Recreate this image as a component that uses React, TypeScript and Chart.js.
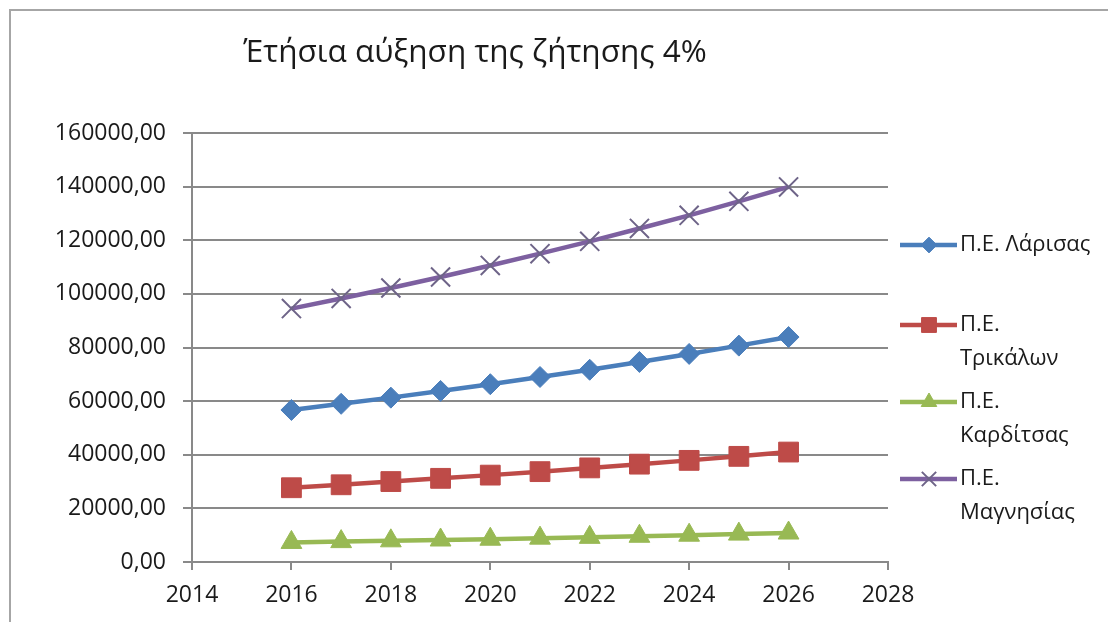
import React, { useEffect, useRef } from "react";
import { Chart, registerables } from "chart.js";
import { drawPoint } from "chart.js/helpers";

Chart.register(...registerables);

const years = [2016, 2017, 2018, 2019, 2020, 2021, 2022, 2023, 2024, 2025, 2026];
const larisaValues = [56700, 59000, 61300, 63800, 66300, 69000, 71700, 74600, 77600, 80700, 83900];
const trikalaValues = [27700, 28800, 30000, 31200, 32400, 33700, 35100, 36500, 37900, 39400, 41000];
const karditsaValues = [7300, 7600, 7900, 8200, 8500, 8900, 9200, 9600, 10000, 10400, 10800];
const magnesiaValues = [94500, 98300, 102200, 106300, 110600, 115000, 119600, 124400, 129300, 134500, 139900];
const seriesLabels = ["Π.Ε. Λάρισας", "Π.Ε.\nΤρικάλων", "Π.Ε.\nΚαρδίτσας", "Π.Ε.\nΜαγνησίας"];
const titleText = "Έτήσια αύξηση της ζήτησης 4%";

const FONT = "'Open Sans', sans-serif";
const TEXT = "#1a1a1a";
const GRID = "#898989";

const toPoints = (vals: number[]) => vals.map((v, i) => ({ x: years[i], y: v }));

const framePlugin = {
  id: "frame",
  beforeDraw(chart: any) {
    const ctx = chart.ctx;
    ctx.save();
    ctx.strokeStyle = "#a6a6a6";
    ctx.lineWidth = 2;
    ctx.beginPath();
    ctx.moveTo(10, chart.height + 5);
    ctx.lineTo(10, 10);
    ctx.lineTo(chart.width + 5, 10);
    ctx.stroke();
    ctx.restore();
  },
};

const titlePlugin = {
  id: "placedTitle",
  afterDraw(chart: any) {
    const ctx = chart.ctx;
    ctx.save();
    ctx.fillStyle = TEXT;
    ctx.font = `31.5px ${FONT}`;
    ctx.textAlign = "center";
    ctx.textBaseline = "middle";
    ctx.fillText(titleText, 475, 53);
    ctx.restore();
  },
};

const legendPlugin = {
  id: "sideLegend",
  afterDraw(chart: any) {
    const ctx = chart.ctx;
    const rows = [245, 325, 402, 479];
    const lineGap = 34;
    ctx.save();
    chart.data.datasets.forEach((ds: any, i: number) => {
      const y = rows[i];
      ctx.strokeStyle = ds.borderColor;
      ctx.lineWidth = 4.5;
      ctx.lineCap = "butt";
      ctx.beginPath();
      ctx.moveTo(900, y);
      ctx.lineTo(957, y);
      ctx.stroke();
      ctx.fillStyle = ds.pointBackgroundColor;
      ctx.strokeStyle = ds.pointBorderColor;
      ctx.lineWidth = ds.pointBorderWidth;
      drawPoint(ctx, { pointStyle: ds.pointStyle, radius: ds.pointRadius * 0.75, rotation: 0, borderWidth: ds.pointBorderWidth }, 929, y);
      ctx.fillStyle = TEXT;
      ctx.font = `22px ${FONT}`;
      ctx.textBaseline = "middle";
      ctx.textAlign = "left";
      String(ds.label).split("\n").forEach((line: string, k: number) => {
        ctx.fillText(line, 960, y + k * lineGap);
      });
    });
    ctx.restore();
  },
};

export default function App() {
  const ref = useRef<HTMLCanvasElement | null>(null);
  useEffect(() => {
    if (!ref.current) return;
    const mk = (label: string, vals: number[], color: string, style: string, radius: number, border: string, bw: number) => ({
      label,
      data: toPoints(vals),
      borderColor: color,
      backgroundColor: color,
      borderWidth: 4.5,
      pointStyle: style,
      pointRadius: radius,
      pointBackgroundColor: color,
      pointBorderColor: border,
      pointBorderWidth: bw,
      tension: 0,
      showLine: true,
    });
    const chart = new Chart(ref.current, {
      type: "line",
      data: {
        datasets: [
          mk(seriesLabels[0], larisaValues, "#4a7ebb", "rectRot", 10.5, "#4a7ebb", 1),
          mk(seriesLabels[1], trikalaValues, "#be4b48", "rect", 14, "#be4b48", 1),
          mk(seriesLabels[2], karditsaValues, "#98b954", "triangle", 12, "#98b954", 1),
          mk(seriesLabels[3], magnesiaValues, "#7d60a0", "crossRot", 13.5, "#6e6488", 2),
        ] as any,
      },
      options: {
        animation: false,
        responsive: false,
        layout: { padding: { left: 0, right: 220, top: 133, bottom: 0 } },
        plugins: {
          legend: { display: false },
          tooltip: { enabled: false },
          title: { display: false },
        },
        scales: {
          x: {
            type: "linear",
            min: 2014,
            max: 2028,
            afterFit: (s: any) => { s.height = 60; },
            ticks: {
              stepSize: 2,
              color: TEXT,
              padding: 12,
              font: { family: FONT, size: 23 },
              callback: (v: any) => String(v),
            },
            grid: { drawOnChartArea: false, drawTicks: true, tickLength: 8, color: GRID, lineWidth: 2 },
            border: { display: true, color: GRID, width: 2 },
          },
          y: {
            min: 0,
            max: 160000,
            afterFit: (s: any) => { s.width = 192; },
            ticks: {
              stepSize: 20000,
              color: TEXT,
              padding: 17,
              font: { family: FONT, size: 23 },
              callback: (v: any) => Number(v).toFixed(2).replace(".", ","),
            },
            grid: { drawTicks: true, tickLength: 9, color: GRID, lineWidth: 2 },
            border: { display: true, color: GRID, width: 2 },
          },
        },
      },
      plugins: [framePlugin, titlePlugin, legendPlugin],
    } as any);
    return () => chart.destroy();
  }, []);
  return (
    <div style={{ position: "fixed", left: 0, top: 0, width: 1108, height: 622, background: "#fff" }}>
      <canvas ref={ref} width={1108} height={622} style={{ width: 1108, height: 622, display: "block" }} />
    </div>
  );
}
